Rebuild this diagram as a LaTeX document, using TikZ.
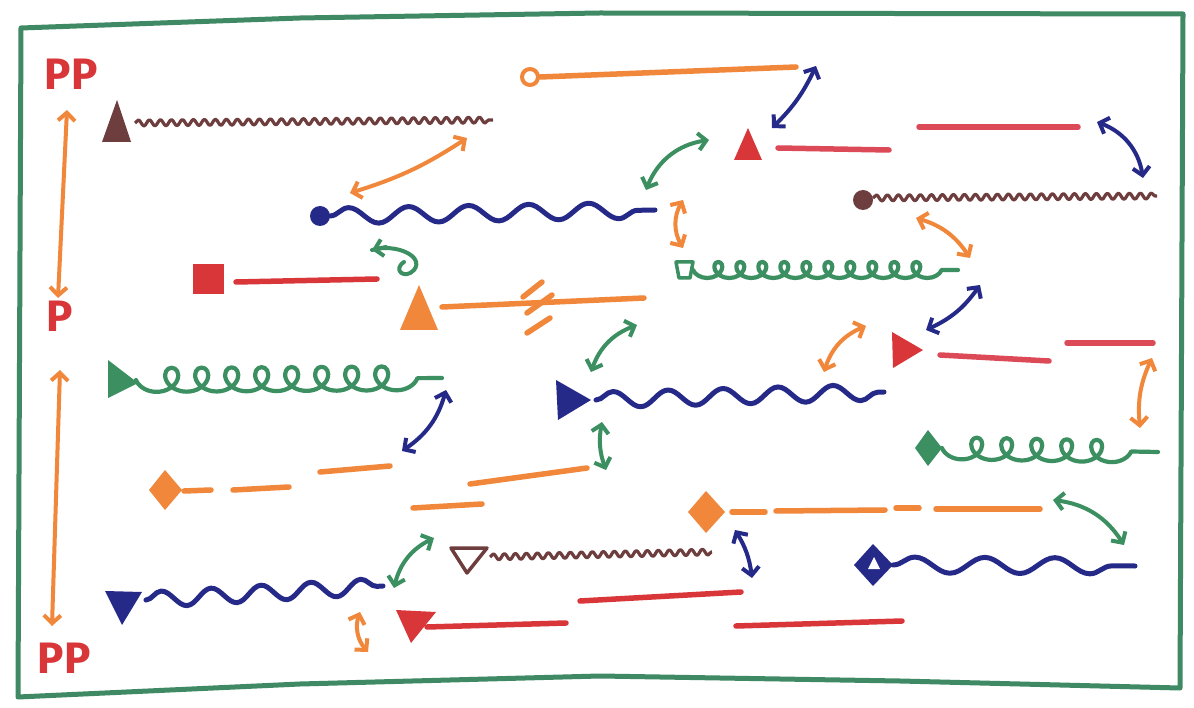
\documentclass[tikz,border=0pt]{standalone}
\usepackage{fontspec}
\setsansfont{Fira Sans}
\usetikzlibrary{arrows.meta,decorations.pathmorphing}
\definecolor{cgreen}{HTML}{3B8F60}
\definecolor{cborder}{HTML}{3F8A64}
\definecolor{corange}{HTML}{F0873A}
\definecolor{cred}{HTML}{D9363A}
\definecolor{cpink}{HTML}{DC4A58}
\definecolor{cblue}{HTML}{252A88}
\definecolor{cbrown}{HTML}{6E3D3D}
\begin{document}
\begin{tikzpicture}[x=1pt,y=-1pt,line join=round,
  mk/.style={line width=5.5pt,line cap=round},
  dbl/.style={<->,line width=4pt,line cap=round,>={Straight Barb[length=8pt,width=17pt]}},
  zig/.style={line width=3.2pt,decorate,decoration={snake,segment length=11pt,amplitude=3pt}},
  wave/.style={line width=5pt,line cap=round,decorate,decoration={snake,segment length=#1,amplitude=8pt}},
  coils/.style 2 args={line width=4.2pt,line cap=round,decorate,decoration={coil,mirror,segment length=#1,amplitude=#2,aspect=1.1}},
  lbl/.style={text=cred,font=\sffamily\bfseries\fontsize{44}{44}\selectfont,inner sep=0pt}
]
\useasboundingbox (0,0) rectangle (1194,708);
\fill[white] (0,0) rectangle (1194,708);
% border
\draw[cborder,line width=5pt] (21,28) -- (300,18) -- (600,13) -- (1183,14) -- (1180,688) -- (900,681) -- (600,676) -- (300,684) -- (18,697) -- cycle;

% labels
\node[lbl] (pp1) at (71,74) {PP};
\node[lbl] (p) at (60,316) {P};
\node[lbl] (pp2) at (64,658) {PP};

% strands
\fill[cbrown] (102,142) -- (117,100) -- (131,142) -- cycle;
\draw[cbrown,zig] (135,123) -- (493,120);

\draw[corange,line width=4pt] (530,77) circle[radius=8];
\draw[corange,mk] (540,77) -- (796,67);

\fill[cblue] (320,216) circle[radius=10];
\draw[cblue,wave=60pt] (330,216) -- (655,210);

\fill[cred] (734,160) -- (748,128) -- (762,160) -- cycle;
\draw[cpink,mk] (778,148) -- (889,150);
\draw[cpink,mk] (919,127) -- (1078,127);

\fill[cbrown] (863,200) circle[radius=10];
\draw[cbrown,zig] (873,198) -- (1157,196);

\draw[cgreen,line width=3.5pt] (676,262) -- (693,262) -- (690,278) -- (679,278) -- cycle;
\draw[cgreen,coils={22pt}{8pt}] (693,270) -- (958,270);

\fill[cred] (193,264) rectangle (224,294);
\draw[cred,mk] (236,282) -- (377,279);

\fill[corange] (400,330) -- (419,285) -- (438,330) -- cycle;
\draw[corange,mk] (442,307) -- (644,298);
\draw[corange,mk] (523,297) -- (542,282);
\draw[corange,mk] (527,313) -- (552,295);
\draw[corange,mk] (527,333) -- (550,318);

\fill[cgreen] (108,360) -- (108,398) -- (138,383) -- cycle;
\draw[cgreen,coils={30pt}{12pt}] (136,380) -- (442,378);

\fill[cblue] (556,380) -- (558,420) -- (591,400) -- cycle;
\draw[cblue,wave=55pt] (596,400) -- (884,392);

\fill[cred] (892,332) -- (893,368) -- (923,350) -- cycle;
\draw[cpink,mk] (940,355) -- (1049,361);
\draw[cpink,mk] (1067,343) -- (1153,343);

\fill[cgreen] (915,448) -- (928,430) -- (942,448) -- (928,466) -- cycle;
\draw[cgreen,coils={30pt}{11pt}] (942,448) -- (1158,452);

\fill[corange] (149,490) -- (165,470) -- (182,490) -- (165,510) -- cycle;
\draw[corange,mk] (184,491) -- (211,490);
\draw[corange,mk] (233,490) -- (289,487);
\draw[corange,mk] (320,472) -- (390,466);
\draw[corange,mk] (413,508) -- (482,504);
\draw[corange,mk] (470,484) -- (587,468);

\fill[corange] (688,512) -- (706,491) -- (725,512) -- (706,533) -- cycle;
\draw[corange,mk] (732,512) -- (765,512);
\draw[corange,mk] (776,511) -- (885,510);
\draw[corange,mk] (896,508) -- (919,508);
\draw[corange,mk] (936,509) -- (1040,509);

\draw[cbrown,line width=3.5pt] (451,548) -- (487,548) -- (467,573) -- cycle;
\draw[cbrown,zig] (490,557) -- (712,552);

\fill[cblue] (854,565) -- (873,544) -- (893,565) -- (873,586) -- cycle;
\fill[white] (868,569) -- (874,557) -- (880,569) -- cycle;
\draw[cblue,wave=70pt] (893,565) -- (1135,566);

\fill[cblue] (105,591) -- (142,592) -- (122,625) -- cycle;
\draw[cblue,wave=50pt] (146,600) -- (383,586);

\fill[cred] (396,610) -- (436,612) -- (411,643) -- cycle;
\draw[cred,mk] (427,627) -- (566,623);
\draw[cred,mk] (580,601) -- (741,592);
\draw[cred,mk] (736,626) -- (902,621);

% arrow end points
\coordinate (a1a) at (67,110);  \coordinate (a1b) at (58,298);
\coordinate (a2a) at (60,370);  \coordinate (a2b) at (52,626);
\coordinate (a3a) at (467,138); \coordinate (a3b) at (350,193);
\coordinate (a4a) at (816,66);  \coordinate (a4b) at (772,128);
\coordinate (a5a) at (709,140); \coordinate (a5b) at (646,190);
\coordinate (a6a) at (1097,122);\coordinate (a6b) at (1143,178);
\coordinate (a7a) at (683,200); \coordinate (a7b) at (683,248);
\coordinate (a8a) at (916,218); \coordinate (a8b) at (970,258);
\coordinate (a9a) at (372,250); \coordinate (a9b) at (404,262);
\coordinate (a10a) at (637,325);\coordinate (a10b) at (591,372);
\coordinate (a11a) at (866,326);\coordinate (a11b) at (824,372);
\coordinate (a12a) at (980,285);\coordinate (a12b) at (926,330);
\coordinate (a13a) at (1152,358);\coordinate (a13b) at (1140,428);
\coordinate (a14a) at (446,390);\coordinate (a14b) at (402,451);
\coordinate (a15a) at (602,422);\coordinate (a15b) at (606,470);
\coordinate (a16a) at (1053,500);\coordinate (a16b) at (1124,545);
\coordinate (a17a) at (434,538);\coordinate (a17b) at (394,588);
\coordinate (a18a) at (735,530);\coordinate (a18b) at (752,578);
\coordinate (a19a) at (360,612);\coordinate (a19b) at (368,652);

\draw[dbl,corange] (a1a) -- (a1b);
\draw[dbl,corange] (a2a) -- (a2b);
\draw[dbl,corange] (a3a) to[bend left=8] (a3b);
\draw[dbl,cblue] (a4a) to[bend left=10] (a4b);
\draw[dbl,cgreen] (a5a) to[bend right=30] (a5b);
\draw[dbl,cblue] (a6a) to[bend left=30] (a6b);
\draw[dbl,corange] (a7a) to[bend right=30] (a7b);
\draw[dbl,corange] (a8a) to[bend left=20] (a8b);
\draw[dbl,cgreen,-] (a9a) .. controls (395,243) and (425,256) .. (414,270) .. controls (405,280) and (392,270) .. (a9b);
\draw[cgreen,line width=4pt,line cap=round,-{Straight Barb[length=8pt,width=17pt]}] (386,247) -- (a9a);
\draw[dbl,cgreen] (a10a) to[bend right=25] (a10b);
\draw[dbl,corange] (a11a) to[bend right=25] (a11b);
\draw[dbl,cblue] (a12a) to[bend left=15] (a12b);
\draw[dbl,corange] (a13a) to[bend right=15] (a13b);
\draw[dbl,cblue] (a14a) to[bend left=20] (a14b);
\draw[dbl,cgreen] (a15a) to[bend right=15] (a15b);
\draw[dbl,cgreen] (a16a) to[bend left=25] (a16b);
\draw[dbl,cgreen] (a17a) to[bend right=25] (a17b);
\draw[dbl,cblue] (a18a) to[bend left=12] (a18b);
\draw[dbl,corange] (a19a) to[bend right=30] (a19b);
\end{tikzpicture}
\end{document}
